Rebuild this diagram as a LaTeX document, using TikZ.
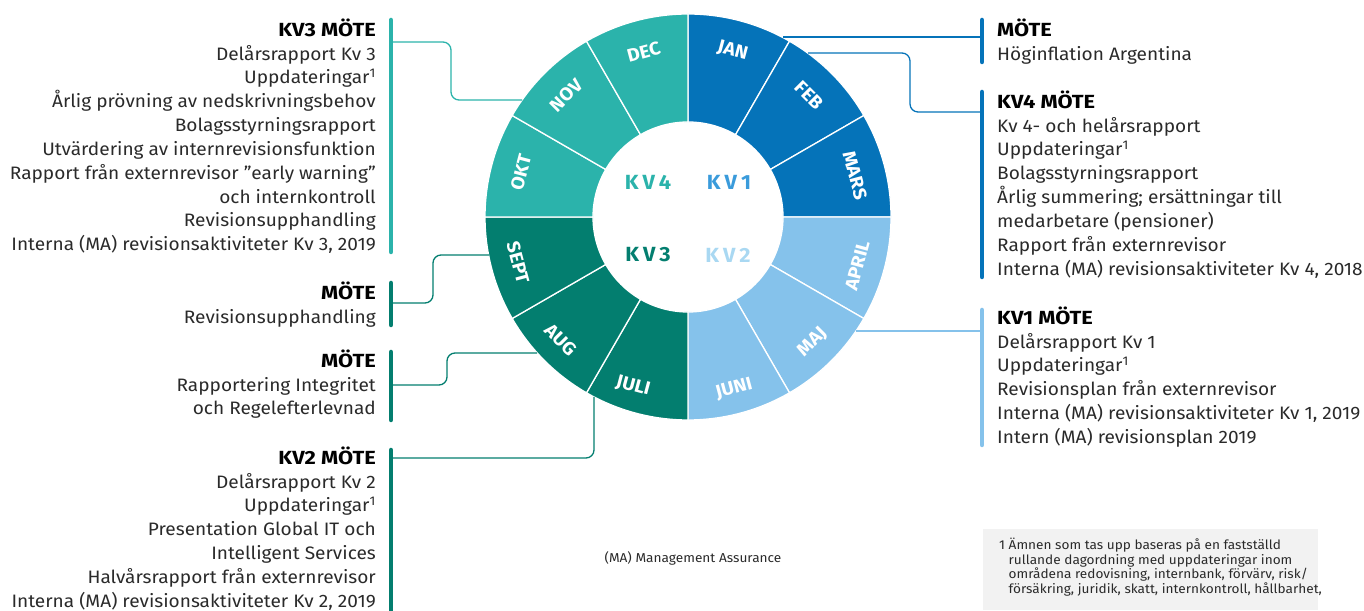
\documentclass[tikz,border=0pt]{standalone}
\usepackage{fontspec}
\setmainfont{Fira Sans}[FakeStretch=1.06]
\newfontfamily\headfont{Fira Sans}[FakeStretch=1.15]
\definecolor{kvblue}{HTML}{0573B9}
\definecolor{kvsky}{HTML}{85C2EB}
\definecolor{kvgreen}{HTML}{037E6F}
\definecolor{kvteal}{HTML}{2BB3AB}
\definecolor{kvonelabel}{HTML}{3A9BDB}
\definecolor{kvtwolabel}{HTML}{A9D8F2}
\definecolor{bodygrey}{HTML}{2A2A2A}
\definecolor{notegrey}{HTML}{F2F2F2}
\tikzset{
	seg/.style={draw=white,line width=1.3pt},
	month/.style={text=white,font=\fontsize{18.3}{18.3}\selectfont\bfseries,inner sep=0pt},
	kvlabel/.style={font=\fontsize{20.5}{20.5}\selectfont\bfseries,inner sep=0pt},
	info/.style={font=\fontsize{18}{23.85}\selectfont,text=bodygrey,inner sep=0pt},
	bar/.style={line width=4.5pt,line cap=round},
	link/.style={line width=1.3pt,rounded corners=8pt},
}
\newcommand{\motehead}[1]{\rule{0pt}{18pt}\textcolor{black}{\headfont\fontsize{19}{23.85}\selectfont\bfseries #1}}
\newcommand{\kvword}[1]{K\kern4pt V\kern4pt #1}
\begin{document}
\begin{tikzpicture}[x=1pt,y=1pt]
		\useasboundingbox (0,0) rectangle (1364,610);
		% wheel
		\begin{scope}[shift={(688,393)}]
			\filldraw[seg,fill=kvblue] (90:95) arc (90:60:95) -- (60:203) arc (60:90:203) -- cycle;
			\filldraw[seg,fill=kvblue] (60:95) arc (60:30:95) -- (30:203) arc (30:60:203) -- cycle;
			\filldraw[seg,fill=kvblue] (30:95) arc (30:0:95) -- (0:203) arc (0:30:203) -- cycle;
			\filldraw[seg,fill=kvsky] (0:95) arc (0:-30:95) -- (-30:203) arc (-30:0:203) -- cycle;
			\filldraw[seg,fill=kvsky] (-30:95) arc (-30:-60:95) -- (-60:203) arc (-60:-30:203) -- cycle;
			\filldraw[seg,fill=kvsky] (-60:95) arc (-60:-90:95) -- (-90:203) arc (-90:-60:203) -- cycle;
			\filldraw[seg,fill=kvgreen] (-90:95) arc (-90:-120:95) -- (-120:203) arc (-120:-90:203) -- cycle;
			\filldraw[seg,fill=kvgreen] (-120:95) arc (-120:-150:95) -- (-150:203) arc (-150:-120:203) -- cycle;
			\filldraw[seg,fill=kvgreen] (-150:95) arc (-150:-180:95) -- (-180:203) arc (-180:-150:203) -- cycle;
			\filldraw[seg,fill=kvteal] (180:95) arc (180:150:95) -- (150:203) arc (150:180:203) -- cycle;
			\filldraw[seg,fill=kvteal] (150:95) arc (150:120:95) -- (120:203) arc (120:150:203) -- cycle;
			\filldraw[seg,fill=kvteal] (120:95) arc (120:90:95) -- (90:203) arc (90:120:203) -- cycle;
			\node[month,rotate=-15] (jan) at (75:172) {JAN};
			\node[month,rotate=-45] (feb) at (45:172) {FEB};
			\node[month,rotate=-75] (mars) at (14:172) {MARS};
			\node[month,rotate=75] (april) at (-16:176) {APRIL};
			\node[month,rotate=45] (maj) at (-45:177) {MAJ};
			\node[month,rotate=15] (juni) at (-75:178) {JUNI};
			\node[month,rotate=-15] (juli) at (-108:178) {JULI};
			\node[month,rotate=-45] (aug) at (-136:177) {AUG};
			\node[month,rotate=-75] (sept) at (-165:176) {SEPT};
			\node[month,rotate=75] (okt) at (165:173) {OKT};
			\node[month,rotate=45] (nov) at (135:172) {NOV};
			\node[month,rotate=15] (dec) at (105:171) {DEC};
			\node[kvlabel,text=kvteal] (kvfour) at (-40,35) {\kvword{4}};
			\node[kvlabel,text=kvonelabel] (kvone) at (41,35) {\kvword{1}};
			\node[kvlabel,text=kvgreen] (kvthree) at (-40,-38) {\kvword{3}};
			\node[kvlabel,text=kvtwolabel] (kvtwo) at (40,-38) {\kvword{2}};
		\end{scope}
		% rim points of the links
		\coordinate (novrim) at (522,510); \coordinate (septrim) at (489,355);
		\coordinate (augrim) at (537,257); \coordinate (julirim) at (594,213);
		\coordinate (janrim) at (783,573); \coordinate (febrim) at (808,557);
		\coordinate (majrim) at (856,279);
		% left column
		\node[info,anchor=north east,align=right] (kvthreemote) at (376,592) {\motehead{KV3 MÖTE}\\Delårsrapport Kv 3\\Uppdateringar\textsuperscript{1}\\Årlig prövning av nedskrivningsbehov\\Bolagsstyrningsrapport\\Utvärdering av internrevisionsfunktion\\Rapport från externrevisor ”early warning”\\och internkontroll\\Revisionsupphandling\\Interna (MA) revisionsaktiviteter Kv 3, 2019};
		\node[info,anchor=north east,align=right] (septmote) at (376,329) {\motehead{MÖTE}\\Revisionsupphandling};
		\node[info,anchor=north east,align=right] (augmote) at (376,261) {\motehead{MÖTE}\\Rapportering Integritet\\och Regelefterlevnad};
		\node[info,anchor=north east,align=right] (kvtwomote) at (376,164) {\motehead{KV2 MÖTE}\\Delårsrapport Kv 2\\Uppdateringar\textsuperscript{1}\\Presentation Global IT och\\Intelligent Services\\Halvårsrapport från externrevisor\\Interna (MA) revisionsaktiviteter Kv 2, 2019};
		\coordinate (kvthreetop) at (391,590); \coordinate (kvthreebot) at (391,358);
		\coordinate (septtop) at (391,327); \coordinate (septbot) at (391,285);
		\coordinate (augtop) at (391,258); \coordinate (augbot) at (391,190);
		\coordinate (kvtwotop) at (391,160); \coordinate (kvtwobot) at (391,-10);
		\draw[bar,kvteal] (kvthreetop) -- (kvthreebot);
		\draw[bar,kvgreen] (septtop) -- (septbot);
		\draw[bar,kvgreen] (augtop) -- (augbot);
		\draw[bar,kvgreen] (kvtwotop) -- (kvtwobot);
		\coordinate (kvthreein) at (391,568); \coordinate (septin) at (391,307);
		\coordinate (augin) at (391,225); \coordinate (kvtwoin) at (391,152);
		\draw[link,kvteal] (kvthreein) -- ++(60,0) |- (novrim);
		\draw[link,kvgreen] (septin) -- ++(42,0) |- (septrim);
		\draw[link,kvgreen] (augin) -- ++(56,0) |- (augrim);
		\draw[link,kvgreen] (kvtwoin) -| (julirim);
		% right column
		\node[info,anchor=north west,align=left] (janmote) at (997,592) {\motehead{MÖTE}\\Höginflation Argentina};
		\node[info,anchor=north west,align=left] (kvfourmote) at (997,520) {\motehead{KV4 MÖTE}\\Kv 4- och helårsrapport\\Uppdateringar\textsuperscript{1}\\Bolagsstyrningsrapport\\Årlig summering; ersättningar till\\medarbetare (pensioner)\\Rapport från externrevisor\\Interna (MA) revisionsaktiviteter Kv 4, 2018};
		\node[info,anchor=north west,align=left] (kvonemote) at (997,304) {\motehead{KV1 MÖTE}\\Delårsrapport Kv 1\\Uppdateringar\textsuperscript{1}\\Revisionsplan från externrevisor\\Interna (MA) revisionsaktiviteter Kv 1, 2019\\Intern (MA) revisionsplan 2019};
		\coordinate (jantop) at (982,590); \coordinate (janbot) at (982,548);
		\coordinate (kvfourtop) at (982,518); \coordinate (kvfourbot) at (982,333);
		\coordinate (kvonetop) at (982,300); \coordinate (kvonebot) at (982,165);
		\draw[bar,kvblue] (jantop) -- (janbot);
		\draw[bar,kvblue] (kvfourtop) -- (kvfourbot);
		\draw[bar,kvsky] (kvonetop) -- (kvonebot);
		\coordinate (janin) at (982,573); \coordinate (kvfourin) at (982,498);
		\coordinate (kvonein) at (982,279);
		\draw[link,kvblue] (janrim) -- (janin);
		\draw[link,kvblue] (febrim) -- ++(102,0) |- (kvfourin);
		\draw[link,kvsky] (majrim) -- (kvonein);
		% notes
		\node[font=\fontsize{12.9}{12.9}\selectfont,text=bodygrey] (manote) at (693,52) {(MA) Management Assurance};
		\fill[notegrey] (983,0) rectangle (1318,81);
		\node[font=\fontsize{12.85}{14.8}\selectfont,text=bodygrey,anchor=north west,align=left,inner sep=0pt] (footnote) at (999,73) {\rule{0pt}{12pt}1 Ämnen som tas upp baseras på en fastställd\\\hphantom{1 }rullande dagordning med uppdateringar inom\\\hphantom{1 }områdena redovisning, internbank, förvärv, risk/\\\hphantom{1 }försäkring, juridik, skatt, internkontroll, hållbarhet,};
	\end{tikzpicture}
\end{document}
